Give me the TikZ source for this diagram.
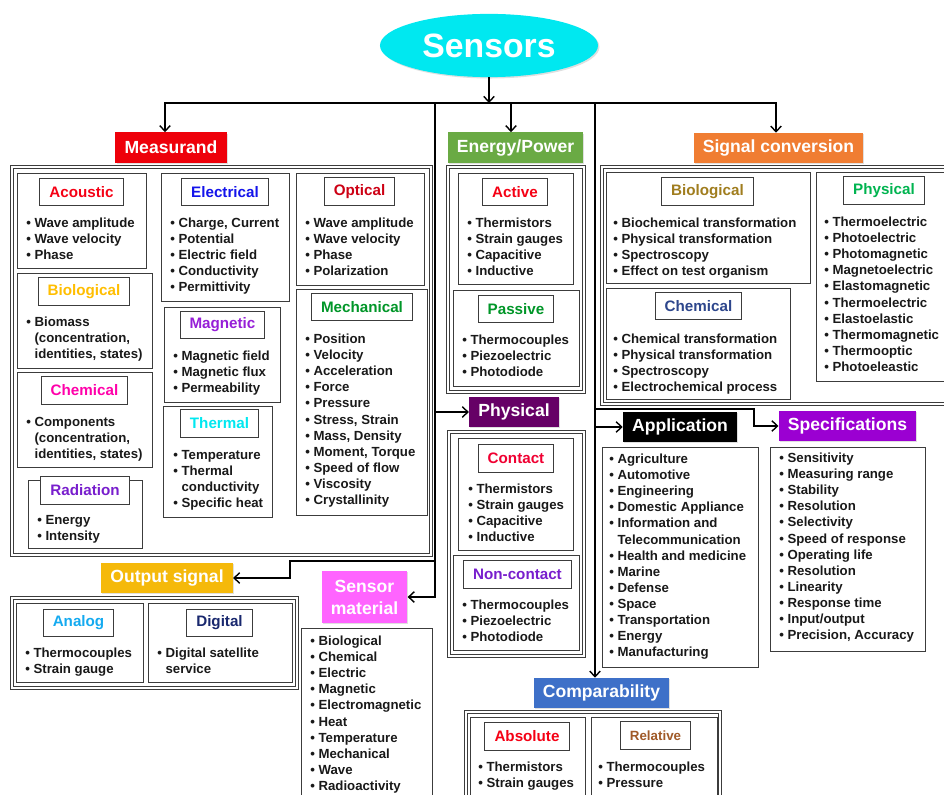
\documentclass[tikz,border=0pt]{standalone}
\usepackage{fontspec}
\setmainfont{Liberation Sans}
\usetikzlibrary{shapes.geometric,fit,shadows,arrows.meta}

\definecolor{boxline}{RGB}{60,60,60}
\definecolor{sencyan}{RGB}{0,232,240}
\definecolor{measred}{RGB}{238,0,10}
\definecolor{enggreen}{RGB}{106,170,68}
\definecolor{sigorange}{RGB}{240,125,50}
\definecolor{physpurple}{RGB}{102,0,102}
\definecolor{specviolet}{RGB}{155,0,210}
\definecolor{outgold}{RGB}{245,185,10}
\definecolor{matpink}{RGB}{255,100,255}
\definecolor{compblue}{RGB}{62,112,200}
\definecolor{tred}{RGB}{245,0,20}
\definecolor{tblue}{RGB}{20,20,235}
\definecolor{tdarkred}{RGB}{205,0,20}
\definecolor{tgold}{RGB}{255,190,0}
\definecolor{tpurple}{RGB}{150,30,215}
\definecolor{tgreen}{RGB}{0,150,40}
\definecolor{tmagenta}{RGB}{255,0,170}
\definecolor{tcyan}{RGB}{0,232,240}
\definecolor{tviolet}{RGB}{120,30,205}
\definecolor{tcrimson}{RGB}{240,0,50}
\definecolor{tolive}{RGB}{160,125,30}
\definecolor{tnavy}{RGB}{45,70,140}
\definecolor{tlime}{RGB}{0,180,80}
\definecolor{tsky}{RGB}{20,170,240}
\definecolor{tdeepnavy}{RGB}{25,40,110}
\definecolor{tbrown}{RGB}{160,90,40}

\newcommand{\bl}{\textbullet\ }
\newcommand{\contline}{\hphantom{\textbullet\ }}

\begin{document}
\begin{tikzpicture}[x=0.025cm,y=-0.025cm,
    every node/.style={font=\bfseries},
    head/.style={fill=#1,text=white,inner xsep=6.5pt,minimum height=0.75cm,
      font=\fontsize{12.5}{14}\selectfont\bfseries,
      drop shadow={opacity=0.25,shadow xshift=0.8pt,shadow yshift=-0.8pt}},
    grp/.style={draw=boxline,double=white,double distance=1.4pt,line width=0.45pt,inner sep=0pt},
    pan/.style={draw=boxline,line width=0.7pt,inner sep=0pt},
    ttl/.style={draw=boxline,line width=0.7pt,fill=white,text=#1,inner xsep=6.8pt,minimum height=0.69cm,
      font=\fontsize{10.8}{13}\selectfont\bfseries},
    lst/.style={anchor=north west,align=left,inner sep=0pt,text=black!90,
      font=\fontsize{9.4}{11.4}\selectfont\bfseries},
    arr/.style={-{Straight Barb[length=4pt,width=7.5pt,line width=1pt]},line width=0.9pt},
    ln/.style={line width=0.9pt,line cap=rect}]

\useasboundingbox (0,0) rectangle (944,794);
\clip (0,0) rectangle (944,794);

% root
\node[ellipse,fill=sencyan,minimum width=5.45cm,minimum height=1.58cm,text=white,
  font=\fontsize{24}{28}\selectfont\bfseries,drop shadow={opacity=0.25,shadow xshift=1pt,shadow yshift=-1pt}] (sensors) at (489,45.5) {Sensors};

% group boxes
\node[grp,fit={(12,167) (431,555)}] (measbox) {};
\node[grp,fit={(448,167) (584,392)}] (energybox) {};
\node[grp,fit={(602,167) (950,404)}] (sigbox) {};
\node[grp,fit={(449,432) (584,656)}] (physbox) {};
\node[grp,fit={(12,598) (297,688)}] (outbox) {};
\node[grp,fit={(466,712) (720,800)}] (compbox) {};

% panels
\node[pan,fit={(17,173) (146,268)}] (acoubox) {};
\node[pan,fit={(17,273) (152,368)}] (biobox) {};
\node[pan,fit={(17,372) (152,467)}] (chembox) {};
\node[pan,fit={(28,480) (142,548)}] (radbox) {};
\node[pan,fit={(161,173) (289,301)}] (elecbox) {};
\node[pan,fit={(164,307) (280,402)}] (magbox) {};
\node[pan,fit={(163,406) (272,517)}] (thermbox) {};
\node[pan,fit={(296,173) (424,285)}] (optbox) {};
\node[pan,fit={(296,289) (427,515)}] (mechbox) {};
\node[pan,fit={(458,173) (573,284)}] (actbox) {};
\node[pan,fit={(453,290) (579,386)}] (pasbox) {};
\node[pan,fit={(458,438) (573,550)}] (contbox) {};
\node[pan,fit={(453,555) (579,650)}] (noncbox) {};
\node[pan,fit={(606,172) (810,283)}] (sbiobox) {};
\node[pan,fit={(606,288) (790,399)}] (schembox) {};
\node[pan,fit={(816,172) (950,381)}] (sphysbox) {};
\node[pan,fit={(602,447) (758,667)}] (applbox) {};
\node[pan,fit={(770,447) (925,651)}] (specbox) {};
\node[pan,fit={(16,603) (143,682)}] (anabox) {};
\node[pan,fit={(148,603) (292,682)}] (digbox) {};
\node[pan,fit={(301,628) (432,800)}] (matlbox) {};
\node[pan,fit={(470,717) (585,800)}] (absbox) {};
\node[pan,fit={(591,717) (717,800)}] (relbox) {};

% titles
\node[ttl=tred] (acou) at (81.5,192) {Acoustic};
\node[ttl=tgold] (bio) at (84,291.5) {Biological};
\node[ttl=tmagenta] (chem) at (84.5,390.5) {Chemical};
\node[ttl=tviolet] (rad) at (85,490.5) {Radiation};
\node[ttl=tblue] (elec) at (225,192) {Electrical};
\node[ttl=tpurple] (mag) at (222.5,325) {Magnetic};
\node[ttl=tcyan] (therm) at (219.5,423.5) {Thermal};
\node[ttl=tdarkred] (opt) at (359.5,191.5) {Optical};
\node[ttl=tgreen] (mech) at (362,307) {Mechanical};
\node[ttl=tred] (act) at (515,192) {Active};
\node[ttl=tgreen] (pas) at (516,309) {Passive};
\node[ttl=tcrimson] (cont) at (516,458.5) {Contact};
\node[ttl=tviolet] (nonc) at (517.5,574.5) {Non-contact};
\node[ttl=tolive] (sbio) at (707.5,191.5) {Biological};
\node[ttl=tnavy] (schem) at (698.5,306) {Chemical};
\node[ttl=tlime] (sphys) at (884,190.5) {Physical};
\node[ttl=tsky] (ana) at (78.5,623) {Analog};
\node[ttl=tdeepnavy] (dig) at (219.5,623) {Digital};
\node[ttl=tred] (abs) at (527,736.5) {Absolute};
\node[ttl=tbrown,font=\fontsize{9.5}{11}\selectfont\bfseries] (rel) at (655.5,735.5) {Relative};

% lists
\node[lst] (acoulst) at (26,218) {\bl Wave amplitude\\\bl Wave velocity\\\bl Phase};
\node[lst] (biolst) at (26,317) {\bl Biomass\\\contline(concentration,\\\contline identities, states)};
\node[lst] (chemlst) at (26,417) {\bl Components\\\contline(concentration,\\\contline identities, states)};
\node[lst] (radlst) at (37,515) {\bl Energy\\\bl Intensity};
\node[lst] (eleclst) at (170,218) {\bl Charge, Current\\\bl Potential\\\bl Electric field\\\bl Conductivity\\\bl Permittivity};
\node[lst] (maglst) at (173,351) {\bl Magnetic field\\\bl Magnetic flux\\\bl Permeability};
\node[lst] (thermlst) at (173,450) {\bl Temperature\\\bl Thermal\\\contline conductivity\\\bl Specific heat};
\node[lst] (optlst) at (305,218) {\bl Wave amplitude\\\bl Wave velocity\\\bl Phase\\\bl Polarization};
\node[lst] (mechlst) at (305,334) {\bl Position\\\bl Velocity\\\bl Acceleration\\\bl Force\\\bl Pressure\\\bl Stress, Strain\\\bl Mass, Density\\\bl Moment, Torque\\\bl Speed of flow\\\bl Viscosity\\\bl Crystallinity};
\node[lst] (actlst) at (467,218) {\bl Thermistors\\\bl Strain gauges\\\bl Capacitive\\\bl Inductive};
\node[lst] (paslst) at (462,335) {\bl Thermocouples\\\bl Piezoelectric\\\bl Photodiode};
\node[lst] (contlst) at (468,484) {\bl Thermistors\\\bl Strain gauges\\\bl Capacitive\\\bl Inductive};
\node[lst] (nonclst) at (462,600) {\bl Thermocouples\\\bl Piezoelectric\\\bl Photodiode};
\node[lst] (sbiolst) at (613,218) {\bl Biochemical transformation\\\bl Physical transformation\\\bl Spectroscopy\\\bl Effect on test organism};
\node[lst] (schemlst) at (613,334) {\bl Chemical transformation\\\bl Physical transformation\\\bl Spectroscopy\\\bl Electrochemical process};
\node[lst] (sphyslst) at (824,217) {\bl Thermoelectric\\\bl Photoelectric\\\bl Photomagnetic\\\bl Magnetoelectric\\\bl Elastomagnetic\\\bl Thermoelectric\\\bl Elastoelastic\\\bl Thermomagnetic\\\bl Thermooptic\\\bl Photoeleastic};
\node[lst] (appllst) at (609,454) {\bl Agriculture\\\bl Automotive\\\bl Engineering\\\bl Domestic Appliance\\\bl Information and\\\contline Telecommunication\\\bl Health and medicine\\\bl Marine\\\bl Defense\\\bl Space\\\bl Transportation\\\bl Energy\\\bl Manufacturing};
\node[lst] (speclst) at (779,453) {\bl Sensitivity\\\bl Measuring range\\\bl Stability\\\bl Resolution\\\bl Selectivity\\\bl Speed of response\\\bl Operating life\\\bl Resolution\\\bl Linearity\\\bl Response time\\\bl Input/output\\\bl Precision, Accuracy};
\node[lst] (analst) at (25,648) {\bl Thermocouples\\\bl Strain gauge};
\node[lst] (diglst) at (157,648) {\bl Digital satellite\\\contline service};
\node[lst] (matllst) at (310,636) {\bl Biological\\\bl Chemical\\\bl Electric\\\bl Magnetic\\\bl Electromagnetic\\\bl Heat\\\bl Temperature\\\bl Mechanical\\\bl Wave\\\bl Radioactivity};
\node[lst] (abslst) at (478,762) {\bl Thermistors\\\bl Strain gauges};
\node[lst] (rellst) at (598,762) {\bl Thermocouples\\\bl Pressure};

% headers
\node[head=measred] (meas) at (171,147.5) {Measurand};
\node[head=enggreen] (energy) at (515.5,147.5) {Energy/Power};
\node[head=sigorange] (sigconv) at (778.5,148) {Signal conversion};
\node[head=physpurple] (phys) at (514,412) {Physical};
\node[head=black] (appl) at (680,427) {Application};
\node[head=specviolet] (spec) at (847.5,426) {Specifications};
\node[head=outgold] (outsig) at (167,578) {Output signal};
\node[head=matpink,align=center,minimum height=1.3cm,font=\fontsize{12.5}{15.6}\selectfont\bfseries] (matl) at (364.5,597) {Sensor\\material};
\node[head=compblue] (comp) at (601.5,693) {Comparability};

% connectors
\coordinate (bus) at (489,103);
\coordinate (busL) at (165,103);
\coordinate (busE) at (511,103);
\coordinate (busR) at (776,103);
\coordinate (trunkL) at (435,103);
\coordinate (trunkR) at (595,103);
\coordinate (outkink) at (290,561);
\coordinate (speckink) at (754,409);

\draw[arr] (sensors) -- (bus);
\draw[ln] (busL) -- (busR);
\draw[arr] (busL) -- (busL |- meas.north);
\draw[arr] (busE) -- (busE |- energy.north);
\draw[arr] (busR) -- (busR |- sigconv.north);
\draw[arr] (trunkL) |- (matl.east);
\draw[arr] (trunkL |- phys) -- (phys.west);
\draw[arr] (trunkL |- outkink) -- (outkink) |- (outsig.east);
\draw[arr] (trunkR) -- (trunkR |- comp.north);
\draw[arr] (trunkR |- appl) -- (appl.west);
\draw[arr] (trunkR |- speckink) -- (speckink) |- (spec.west);
\end{tikzpicture}
\end{document}
